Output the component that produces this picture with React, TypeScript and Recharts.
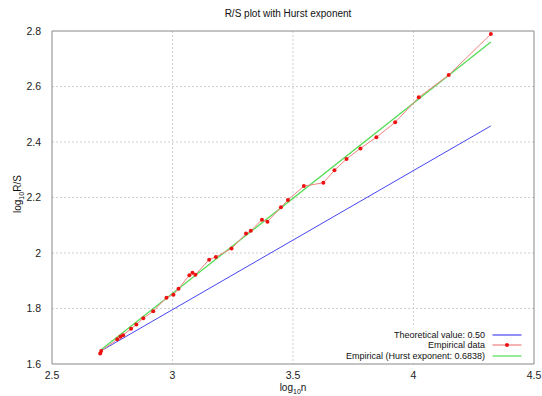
import { LineChart, Line, XAxis, YAxis, CartesianGrid, ReferenceLine } from 'recharts';

const empLogN = [2.700, 2.704, 2.771, 2.784, 2.795, 2.828, 2.850, 2.879, 2.920, 2.975, 3.004, 3.025, 3.070, 3.083, 3.095, 3.152, 3.180, 3.245, 3.305, 3.325, 3.371, 3.394, 3.450, 3.479, 3.545, 3.626, 3.672, 3.722, 3.780, 3.846, 3.924, 4.022, 4.146, 4.321];
const empLogRS = [1.638, 1.647, 1.689, 1.698, 1.704, 1.727, 1.742, 1.765, 1.790, 1.839, 1.850, 1.871, 1.920, 1.929, 1.922, 1.976, 1.986, 2.016, 2.070, 2.080, 2.120, 2.113, 2.165, 2.191, 2.241, 2.253, 2.298, 2.339, 2.377, 2.417, 2.471, 2.561, 2.641, 2.789];

const lineEnds = [2.705, 4.321];
const theoretical = [1.648, 2.458];
const hurstFit = [1.652, 2.760];

const xTicks = [2.5, 3, 3.5, 4, 4.5];
const yTicks = [1.6, 1.8, 2, 2.2, 2.4, 2.6, 2.8];

const empData = empLogN.map((x, i) => ({ x, y: empLogRS[i] }));
const theoData = lineEnds.map((x, i) => ({ x, y: theoretical[i] }));
const fitData = lineEnds.map((x, i) => ({ x, y: hurstFit[i] }));

const font = '"Liberation Sans", Arial, sans-serif';
const tickStyle = { fontSize: 10.5, fill: '#222', fontFamily: font };

const legendRows = [
  { label: 'Theoretical value: 0.50', color: '#4646f0', dot: false },
  { label: 'Empirical data', color: '#f08080', dot: true },
  { label: 'Empirical (Hurst exponent: 0.6838)', color: '#55dd55', dot: false },
];

export default function App() {
  return (
    <div style={{ position: 'absolute', left: 0, top: 0, width: 542, height: 396, background: '#fff', fontFamily: font, overflow: 'hidden' }}>
      <div style={{ position: 'absolute', left: 0, width: 576, top: 8, textAlign: 'center', fontSize: 10, color: '#111' }}>
        R/S plot with Hurst exponent
      </div>
      <LineChart width={542} height={396} data={empData} margin={{ top: 31, right: 8, bottom: 8, left: 0 }}>
        <CartesianGrid strokeDasharray="2 2" stroke="#cfcfcf" verticalValues={[3, 3.5, 4]} horizontalValues={[1.8, 2, 2.2, 2.4, 2.6]} />
        <XAxis dataKey="x" type="number" domain={[2.5, 4.5]} ticks={xTicks} tick={tickStyle} tickLine={false} axisLine={{ stroke: '#888' }} tickMargin={2} interval={0} height={24} />
        <YAxis type="number" domain={[1.6, 2.8]} ticks={yTicks} tick={tickStyle} tickLine={false} axisLine={{ stroke: '#888' }} width={52} tickMargin={5} interval={0} />
        <ReferenceLine y={2.8} stroke="#888" />
        <ReferenceLine x={4.5} stroke="#888" />
        <Line data={theoData} dataKey="y" stroke="#4646f0" strokeWidth={1} dot={false} isAnimationActive={false} />
        <Line data={fitData} dataKey="y" stroke="#55dd55" strokeWidth={1.3} dot={false} isAnimationActive={false} />
        <Line data={empData} dataKey="y" stroke="#f08080" strokeWidth={1} dot={{ r: 2, fill: '#ee1111', stroke: 'none' }} isAnimationActive={false} />
      </LineChart>
      <div style={{ position: 'absolute', left: 3, top: 198, transform: 'translate(0, -50%) rotate(-90deg)', transformOrigin: 'center', fontSize: 10, color: '#111', whiteSpace: 'nowrap', width: 30, textAlign: 'center' }}>
        log<sub style={{ fontSize: 7 }}>10</sub>R/S
      </div>
      <div style={{ position: 'absolute', left: 0, width: 586, top: 383, textAlign: 'center', fontSize: 10, lineHeight: '10px', color: '#111' }}>
        log<sub style={{ fontSize: 7, lineHeight: '7px' }}>10</sub>n
      </div>
      <div style={{ position: 'absolute', left: 300, top: 327, width: 233, height: 36, background: '#fff' }}>
        {legendRows.map((r, i) => (
          <div key={r.label} style={{ position: 'absolute', left: 0, top: 3 + i * 10.3, width: 233, height: 10, fontSize: 9, lineHeight: '10px', color: '#111' }}>
            <span style={{ position: 'absolute', right: 48, whiteSpace: 'nowrap' }}>{r.label}</span>
            <svg style={{ position: 'absolute', left: 192, top: 0 }} width={30} height={10}>
              <line x1={0.5} y1={5} x2={29.5} y2={5} stroke={r.color} strokeWidth={1.2} />
              {r.dot && <circle cx={15} cy={5} r={2} fill="#ee1111" />}
            </svg>
          </div>
        ))}
      </div>
    </div>
  );
}
